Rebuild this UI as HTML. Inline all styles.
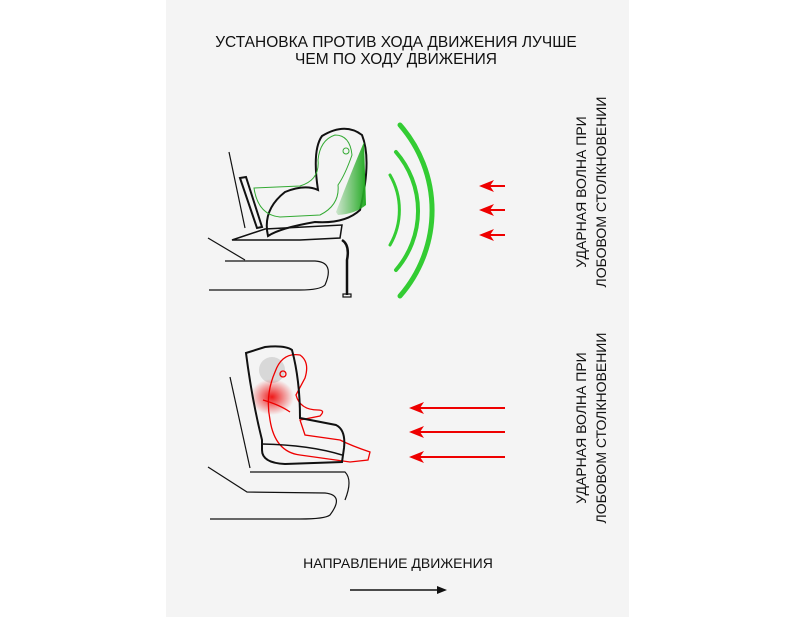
<!DOCTYPE html>
<html><head><meta charset="utf-8"><style>
body{margin:0;background:#fff;width:800px;height:617px;overflow:hidden;font-family:"Liberation Sans",sans-serif}
</style></head><body>
<svg width="800" height="617" viewBox="0 0 800 617" xmlns="http://www.w3.org/2000/svg" font-family="Liberation Sans, sans-serif">
<defs>
<radialGradient id="rg" cx="0.5" cy="0.5" r="0.5"><stop offset="0" stop-color="#e00" stop-opacity="0.9"/><stop offset="1" stop-color="#e00" stop-opacity="0"/></radialGradient>
<linearGradient id="gg" x1="0" y1="0" x2="1" y2="0"><stop offset="0" stop-color="#3a3" stop-opacity="0.2"/><stop offset="1" stop-color="#2a2"/></linearGradient>
</defs>
<rect x="166" y="0" width="463" height="617" fill="#f4f4f4"/>
<text x="396" y="47" font-size="15.5" text-anchor="middle" fill="#111">УСТАНОВКА ПРОТИВ ХОДА ДВИЖЕНИЯ ЛУЧШЕ</text>
<text x="396" y="64" font-size="15.5" text-anchor="middle" fill="#111">ЧЕМ ПО ХОДУ ДВИЖЕНИЯ</text>
<g font-size="14" fill="#111" text-anchor="middle">
<text transform="translate(586,192) rotate(-90)">УДАРНАЯ ВОЛНА ПРИ</text>
<text transform="translate(606,192) rotate(-90)">ЛОБОВОМ СТОЛКНОВЕНИИ</text>
<text transform="translate(586,428) rotate(-90)">УДАРНАЯ ВОЛНА ПРИ</text>
<text transform="translate(606,428) rotate(-90)">ЛОБОВОМ СТОЛКНОВЕНИИ</text>
</g>
<text x="398" y="568" font-size="14" text-anchor="middle" fill="#111">НАПРАВЛЕНИЕ ДВИЖЕНИЯ</text>
<line x1="350" y1="590" x2="440" y2="590" stroke="#111" stroke-width="1.5"/>
<path d="M447,590 L437,586 L437,594z" fill="#111"/>
<!-- top car seat -->
<g fill="none" stroke="#111" stroke-width="1.2">
<path d="M229,152 L245,228"/>
<path d="M208,238 L245,260"/>
<path d="M225,261 L315,261 Q335,262 325,285 Q320,290 300,290 L209,290"/>
<path d="M342,240 Q350,245 347,260 L347,295" stroke-width="2.5"/><rect x="343" y="294" width="8" height="3"/>
<path d="M240,178 L246,177 L262,227 L257,228z" stroke-width="2"/>
<path d="M232,240 L300,240 L340,238 L342,225 L265,229z" stroke-width="1.5"/>
</g>
<path d="M268,236 Q262,210 285,192 Q305,184 318,190 Q312,150 322,136 Q345,122 362,135 Q372,160 360,210 Q345,224 315,222 Q280,228 268,236z" fill="none" stroke="#111" stroke-width="2"/>
<path d="M336,212 Q352,170 364,142 L366,205 Q355,214 338,215z" fill="url(#gg)"/>
<g fill="none" stroke="#3a3" stroke-width="1">
<path d="M254,188 L300,186 Q320,180 318,160 Q320,140 335,135 Q350,135 352,155 Q345,175 338,185 Q340,205 320,215 L280,217 Q258,215 254,188z"/>
<circle cx="346" cy="151" r="3"/>
</g>
<g fill="none" stroke="#3c3" stroke-linecap="round">
<path d="M390,175 A70,70 0 0 1 390,245" stroke-width="3"/>
<path d="M396,152 A90,90 0 0 1 396,270" stroke-width="4"/>
<path d="M400,125 A130,130 0 0 1 400,296" stroke-width="5"/>
</g>
<g stroke="#e00" stroke-width="2">
<line x1="505" y1="186" x2="490" y2="186"/><line x1="505" y1="210" x2="490" y2="210"/><line x1="505" y1="235" x2="490" y2="235"/>
</g>
<g fill="#e00">
<path d="M479,186 L494,180 L490,186 L494,192z"/><path d="M479,210 L494,204 L490,210 L494,216z"/><path d="M479,235 L494,229 L490,235 L494,241z"/>
</g>
<!-- bottom car seat -->
<g fill="none" stroke="#111" stroke-width="1.2">
<path d="M230,377 L250,468"/>
<path d="M208,467 L247,492 L325,493 Q345,495 330,515 Q325,519 300,519 L210,519"/>
<path d="M250,472 L345,472 Q353,480 345,500"/>
</g>
<circle cx="272" cy="370" r="13" fill="#ccc" opacity="0.7"/>
<ellipse cx="272" cy="397" rx="22" ry="18" fill="url(#rg)"/>
<g fill="none" stroke="#e00" stroke-width="1.3">
<path d="M275,372 Q282,352 300,355 Q310,362 305,378 L296,395 Q300,410 318,410 Q326,410 320,416 L300,420 L305,435 L340,440 Q352,446 370,452 L368,460 L350,462 L300,455 Q275,452 270,420 Q265,395 275,372z"/>
<path d="M263,400 Q280,405 290,412"/><circle cx="283" cy="374" r="3"/>
</g>
<path d="M246,353 L265,347 Q285,345 292,350 Q300,380 300,418 L336,425 Q346,430 344,448 L342,462 L285,464 Q262,463 262,450 L262,440 Q252,400 246,353z" fill="none" stroke="#111" stroke-width="2"/>
<path d="M262,444 Q310,445 342,455" fill="none" stroke="#111" stroke-width="1.5"/>
<g stroke="#e00" stroke-width="2">
<line x1="505" y1="408" x2="420" y2="408"/><line x1="505" y1="432" x2="420" y2="432"/><line x1="505" y1="457" x2="420" y2="457"/>
</g>
<g fill="#e00">
<path d="M409,408 L424,402 L420,408 L424,414z"/><path d="M409,432 L424,426 L420,432 L424,438z"/><path d="M409,457 L424,451 L420,457 L424,463z"/>
</g>
</svg>
</body></html>
